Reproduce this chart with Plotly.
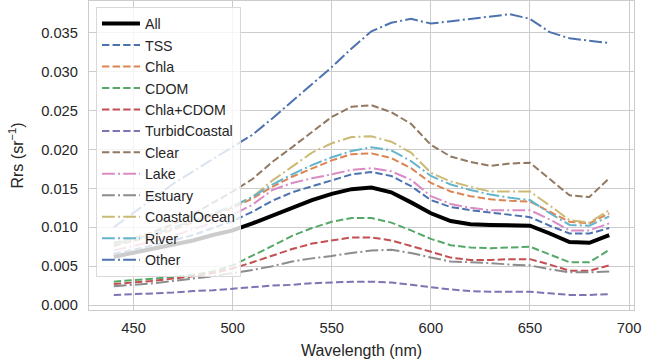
import plotly.graph_objects as go

wavelength = [440, 450, 460, 470, 480, 490, 500, 510, 520, 530, 540, 550, 560,
              570, 580, 590, 600, 610, 620, 630, 640, 650, 660, 670, 680, 690]

rrs_all = [0.0062, 0.0067, 0.0073, 0.0078, 0.0083, 0.0090, 0.0096, 0.0105, 0.0115, 0.0125, 0.0135, 0.0143, 0.0149,
           0.0151, 0.0145, 0.0132, 0.0118, 0.0108, 0.0104, 0.0103, 0.0103, 0.0102, 0.0092, 0.0081, 0.0080, 0.0090]
rrs_tss = [0.0066, 0.0071, 0.0077, 0.0083, 0.0090, 0.0099, 0.0108, 0.0120, 0.0134, 0.0145, 0.0153, 0.0161, 0.0168,
           0.0171, 0.0166, 0.0153, 0.0135, 0.0126, 0.0122, 0.0119, 0.0116, 0.0113, 0.0102, 0.0092, 0.0092, 0.0099]
rrs_chla = [0.0076, 0.0082, 0.0089, 0.0097, 0.0106, 0.0116, 0.0125, 0.0137, 0.0152, 0.0165, 0.0176, 0.0186, 0.0194,
            0.0195, 0.0189, 0.0176, 0.0157, 0.0146, 0.0140, 0.0136, 0.0134, 0.0133, 0.0120, 0.0107, 0.0105, 0.0118]
rrs_cdom = [0.0030, 0.0032, 0.0034, 0.0036, 0.0039, 0.0043, 0.0051, 0.0063, 0.0076, 0.0089, 0.0099, 0.0107, 0.0112,
            0.0112, 0.0106, 0.0096, 0.0085, 0.0077, 0.0074, 0.0073, 0.0074, 0.0075, 0.0065, 0.0055, 0.0055, 0.0071]
rrs_chla_cdom = [0.0027, 0.0029, 0.0031, 0.0034, 0.0037, 0.0041, 0.0047, 0.0055, 0.0064, 0.0072, 0.0079, 0.0083, 0.0087,
                 0.0087, 0.0083, 0.0076, 0.0068, 0.0061, 0.0058, 0.0058, 0.0059, 0.0059, 0.0052, 0.0044, 0.0044, 0.0051]
rrs_turbid = [0.0013, 0.0014, 0.0015, 0.0016, 0.0018, 0.0019, 0.0021, 0.0023, 0.0025, 0.0026, 0.0028, 0.0029, 0.0030,
              0.0030, 0.0029, 0.0026, 0.0023, 0.0020, 0.0018, 0.0017, 0.0017, 0.0017, 0.0015, 0.0013, 0.0013, 0.0014]
rrs_clear = [0.0080, 0.0086, 0.0094, 0.0104, 0.0117, 0.0131, 0.0146, 0.0162, 0.0184, 0.0203, 0.0222, 0.0242, 0.0255,
             0.0257, 0.0248, 0.0233, 0.0206, 0.0191, 0.0184, 0.0179, 0.0182, 0.0183, 0.0162, 0.0141, 0.0139, 0.0163]
rrs_lake = [0.0070, 0.0076, 0.0082, 0.0089, 0.0097, 0.0106, 0.0116, 0.0129, 0.0148, 0.0157, 0.0163, 0.0168, 0.0174,
            0.0176, 0.0172, 0.0161, 0.0140, 0.0130, 0.0125, 0.0122, 0.0122, 0.0122, 0.0110, 0.0096, 0.0096, 0.0105]
rrs_estuary = [0.0024, 0.0026, 0.0028, 0.0031, 0.0034, 0.0037, 0.0041, 0.0045, 0.0050, 0.0056, 0.0060, 0.0063, 0.0067,
               0.0070, 0.0071, 0.0067, 0.0061, 0.0056, 0.0055, 0.0054, 0.0052, 0.0051, 0.0046, 0.0042, 0.0042, 0.0043]
rrs_coastal = [0.0079, 0.0085, 0.0092, 0.0100, 0.0109, 0.0118, 0.0127, 0.0139, 0.0160, 0.0178, 0.0196, 0.0208, 0.0216,
               0.0217, 0.0210, 0.0196, 0.0170, 0.0159, 0.0152, 0.0146, 0.0146, 0.0146, 0.0128, 0.0109, 0.0106, 0.0122]
rrs_river = [0.0078, 0.0084, 0.0091, 0.0099, 0.0108, 0.0118, 0.0127, 0.0139, 0.0155, 0.0168, 0.0180, 0.0190, 0.0198,
             0.0203, 0.0199, 0.0185, 0.0166, 0.0155, 0.0148, 0.0142, 0.0138, 0.0135, 0.0118, 0.0103, 0.0102, 0.0114]
rrs_other = [0.0100, 0.0119, 0.0138, 0.0156, 0.0172, 0.0188, 0.0203, 0.0219, 0.0240, 0.0262, 0.0284, 0.0306, 0.0330,
             0.0352, 0.0363, 0.0368, 0.0362, 0.0365, 0.0368, 0.0371, 0.0374, 0.0368, 0.0351, 0.0343, 0.0340, 0.0337]

names = ["All", "TSS", "Chla", "CDOM", "Chla+CDOM", "TurbidCoastal", "Clear", "Lake",
         "Estuary", "CoastalOcean", "River", "Other"]
series = [rrs_all, rrs_tss, rrs_chla, rrs_cdom, rrs_chla_cdom, rrs_turbid, rrs_clear, rrs_lake,
          rrs_estuary, rrs_coastal, rrs_river, rrs_other]
colors = ["#000000", "#4C72B0", "#DD8452", "#55A868", "#C44E52", "#8172B3", "#937860", "#DA8BC3",
          "#8C8C8C", "#CCB974", "#64B5CD", "#4C72B0"]
DASH = "7.4px,3.2px"
DASHDOT = "12.8px,3.2px,2px,3.2px"
styles = ["solid", DASH, DASH, DASH, DASH, DASH, DASH, DASHDOT, DASHDOT, DASHDOT, DASHDOT, DASHDOT]

fig = go.Figure()
for name, vals, col, st in zip(names, series, colors, styles):
    fig.add_trace(go.Scatter(
        x=wavelength, y=vals, name=name, mode="lines",
        line=dict(color=col, width=4 if name == "All" else 2, dash=st),
    ))

font_family = "Liberation Sans, Arial, sans-serif"
fig.update_layout(
    width=667, height=364,
    margin=dict(l=89, r=33, t=1, b=54, autoexpand=False),
    paper_bgcolor="white", plot_bgcolor="white",
    font=dict(family=font_family, size=14.7, color="#262626"),
    showlegend=True,
    legend=dict(
        x=0.0128, y=0.981, xanchor="left", yanchor="top",
        bgcolor="rgba(255,255,255,0.8)", bordercolor="#d9d9d9", borderwidth=1,
        font=dict(size=14.2, color="#262626"), itemwidth=38,
    ),
    xaxis=dict(
        range=[427.5, 702.5], dtick=50, tick0=450, automargin=False,
        showgrid=True, gridcolor="#cccccc", gridwidth=1.3,
        showline=True, linecolor="#cccccc", linewidth=1.3, mirror=True,
        zeroline=False, ticks="", ticklabelstandoff=4,
        title=dict(text="Wavelength (nm)", font=dict(size=16), standoff=10),
    ),
    yaxis=dict(
        range=[-0.00064, 0.0391], dtick=0.005, tick0=0, tickformat=".3f", automargin=False,
        showgrid=True, gridcolor="#cccccc", gridwidth=1.3,
        showline=True, linecolor="#cccccc", linewidth=1.3, mirror=True,
        zeroline=False, ticks="", ticklabelstandoff=7,
        title=dict(text="Rrs (sr<sup>−1</sup>)", font=dict(size=16), standoff=13),
    ),
)

fig.write_html("out.html", config={"displayModeBar": False},
               post_script="document.body.style.margin='0px';")
